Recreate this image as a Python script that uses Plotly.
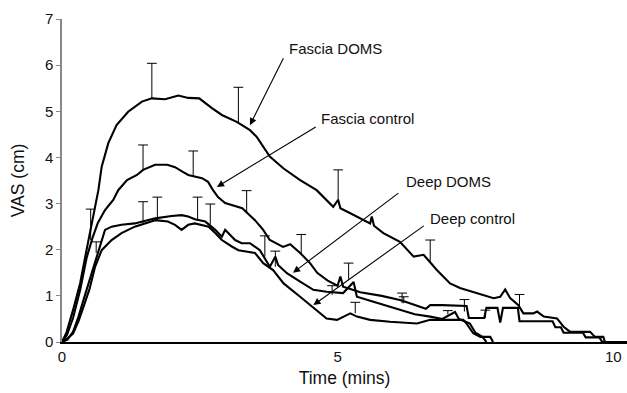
import plotly.graph_objects as go

# ---- data (time in minutes, VAS in cm) ----
fd_t = [0, 0.08, 0.2, 0.33, 0.42, 0.51, 0.66, 0.72, 0.84, 0.99, 1.2, 1.45, 1.63, 1.87, 2.11, 2.29, 2.49,
        2.72, 2.9, 3.17, 3.41, 3.53, 3.77, 4.02, 4.32, 4.62, 4.92, 5.01, 5.05, 5.23, 5.59, 5.62, 5.66, 5.83,
        6.13, 6.38, 6.56, 6.8, 7.04, 7.22, 7.46, 7.71, 7.83, 7.95, 8.04, 8.13, 8.28, 8.37, 8.55, 8.62,
        8.74, 8.98, 9.1, 9.22, 9.58, 9.67, 9.82, 9.85, 10.25]
fd_v = [0, 0.2, 0.69, 1.28, 1.84, 2.36, 3.29, 3.8, 4.31, 4.7, 4.99, 5.21, 5.28, 5.26, 5.34, 5.29, 5.28,
        5.07, 4.92, 4.77, 4.59, 4.45, 4.02, 3.76, 3.51, 3.29, 2.93, 3.08, 2.9, 2.79, 2.57, 2.72, 2.52, 2.36,
        2.17, 1.85, 1.89, 1.56, 1.27, 1.17, 1.09, 1.0, 0.95, 0.98, 1.14, 0.95, 0.8, 0.62, 0.62, 0.66,
        0.55, 0.51, 0.33, 0.22, 0.22, 0.11, 0.11, 0, 0]

fc_t = [0, 0.09, 0.2, 0.33, 0.45, 0.56, 0.65, 0.78, 0.93, 1.02, 1.18, 1.36, 1.47, 1.69, 1.91, 2.05, 2.2,
        2.29, 2.54, 2.65, 2.74, 2.83, 2.96, 3.27, 3.5, 3.65, 3.77, 4.01, 4.14, 4.32, 4.5, 4.63, 4.82, 5.0,
        5.05, 5.1, 5.23, 5.41, 5.8, 6.13, 6.31, 6.6, 6.68, 6.9, 7.34, 7.38, 7.66, 7.7, 7.9, 7.95, 8.0,
        8.27, 8.3, 8.9, 8.95, 9.05, 9.1, 9.45, 9.5, 9.75, 9.8, 10.25]
fc_v = [0, 0.15, 0.52, 1.13, 1.84, 2.28, 2.58, 2.86, 3.08, 3.29, 3.51, 3.62, 3.73, 3.84, 3.84, 3.79, 3.68,
        3.62, 3.55, 3.47, 3.29, 3.14, 3.01, 2.9, 2.64, 2.43, 2.21, 2.06, 2.12, 1.93, 1.71, 1.5, 1.33, 1.22,
        1.42, 1.2, 1.15, 1.08, 1.0, 0.91, 0.84, 0.72, 0.8, 0.8, 0.78, 0.52, 0.52, 0.74, 0.74, 0.42, 0.74,
        0.74, 0.45, 0.45, 0.32, 0.32, 0.2, 0.2, 0.1, 0.1, 0, 0]

dd_t = [0, 0.1, 0.2, 0.3, 0.4, 0.5, 0.6, 0.7, 0.78, 0.9, 1.08, 1.32, 1.69, 1.99, 2.17, 2.29, 2.41, 2.6,
        2.78, 2.9, 2.96, 3.14, 3.26, 3.41, 3.59, 3.77, 3.87, 3.92, 4.08, 4.32, 4.56, 4.8, 5.1, 5.29, 5.35,
        5.71, 6.07, 6.4, 6.68, 6.9, 7.13, 7.2, 7.3, 7.4, 7.5, 7.62, 7.7]
dd_v = [0, 0.05, 0.22, 0.55, 0.95, 1.35, 1.75, 2.1, 2.43, 2.5, 2.54, 2.57, 2.68, 2.73, 2.75, 2.72, 2.66,
        2.61, 2.43, 2.28, 2.43, 2.21, 2.14, 2.14, 1.99, 1.63, 1.85, 1.67, 1.49, 1.31, 1.13, 1.09, 1.06, 1.3,
        0.98, 0.85, 0.72, 0.6, 0.55, 0.5, 0.65, 0.5, 0.45, 0.4, 0.2, 0.12, 0]

dc_t = [0, 0.1, 0.2, 0.3, 0.4, 0.5, 0.6, 0.72, 0.9, 1.08, 1.32, 1.51, 1.69, 1.92, 2.05, 2.17, 2.29, 2.41,
        2.66, 2.78, 2.9, 3.08, 3.2, 3.5, 3.65, 3.83, 4.02, 4.32, 4.62, 4.8, 4.99, 5.23, 5.35, 5.59, 5.95,
        6.44, 6.68, 7.04, 7.28, 7.34, 7.46, 7.59, 7.77, 7.82]
dc_v = [0, 0.08, 0.18, 0.45, 0.8, 1.15, 1.63, 1.99, 2.21, 2.36, 2.5, 2.57, 2.64, 2.61, 2.54, 2.43, 2.54,
        2.57, 2.5, 2.36, 2.21, 2.07, 1.99, 1.93, 1.71, 1.56, 1.27, 0.98, 0.69, 0.51, 0.48, 0.62, 0.55, 0.48,
        0.44, 0.4, 0.48, 0.48, 0.48, 0.4, 0.19, 0.11, 0.11, 0]

# error bars (upper half only): x position, base value, upward error
eb_t = [1.63, 3.2, 5.01, 6.68, 0.52, 1.47, 2.38, 3.35, 4.34, 6.17, 8.3,
        0.62, 1.47, 1.73, 2.46, 2.69, 3.68, 3.87, 4.9, 5.2, 5.32, 6.2, 7.0, 7.3, 7.68]
eb_v = [5.28, 4.75, 3.08, 1.74, 2.21, 3.73, 3.6, 2.8, 1.89, 0.84, 0.73,
        1.93, 2.57, 2.64, 2.64, 2.54, 1.85, 1.63, 1.02, 1.34, 0.62, 0.84, 0.6, 0.66, 0.52]
eb_up = [0.76, 0.77, 0.65, 0.47, 0.67, 0.54, 0.54, 0.48, 0.44, 0.22, 0.3,
         0.24, 0.47, 0.5, 0.5, 0.45, 0.45, 0.34, 0.2, 0.37, 0.24, 0.14, 0.08, 0.26, 0.17]

labels = ["Fascia DOMS", "Fascia control", "Deep DOMS", "Deep control"]
label_xy = [(4.96, 6.37), (5.55, 4.85), (7.01, 3.47), (7.45, 2.67)]
arrow_tail = [(4.03, 6.18), (4.63, 4.68), (6.13, 3.25), (6.59, 2.54)]
arrow_head = [(3.41, 4.70), (2.81, 3.36), (4.19, 1.50), (4.56, 0.80)]

x_ticks = [0, 5, 10]
y_ticks = [0, 1, 2, 3, 4, 5, 6, 7]

FONT = "Liberation Sans, Arial, sans-serif"

fig = go.Figure()
for t, v in [(fd_t, fd_v), (fc_t, fc_v), (dd_t, dd_v), (dc_t, dc_v)]:
    fig.add_trace(go.Scatter(x=t, y=v, mode="lines",
                             line=dict(color="black", width=2.1), showlegend=False))

# error-bar stems and caps
stem_x, stem_y = [], []
for t, b, u in zip(eb_t, eb_v, eb_up):
    stem_x += [t, t, None]
    stem_y += [b, b + u, None]
fig.add_trace(go.Scatter(x=stem_x, y=stem_y, mode="lines",
                         line=dict(color="black", width=1), showlegend=False))
fig.add_trace(go.Scatter(x=eb_t, y=[b + u for b, u in zip(eb_v, eb_up)], mode="markers",
                         marker=dict(symbol="line-ew", size=7, line=dict(color="black", width=1)),
                         showlegend=False))

for (lx, ly), txt in zip(label_xy, labels):
    fig.add_annotation(x=lx, y=ly, text=txt, showarrow=False,
                       font=dict(family=FONT, size=15, color="#111"))
for (tx, ty), (hx, hy) in zip(arrow_tail, arrow_head):
    fig.add_annotation(x=hx, y=hy, ax=tx, ay=ty, axref="x", ayref="y", xref="x", yref="y",
                       text="", showarrow=True, arrowhead=2, arrowsize=1.3, arrowwidth=1.1,
                       arrowcolor="black", standoff=0)

fig.update_layout(
    width=627, height=393,
    margin=dict(l=62, r=0, t=19, b=51),
    paper_bgcolor="white", plot_bgcolor="white",
    font=dict(family=FONT, size=15, color="#111"),
    xaxis=dict(range=[0, 10.25], tickvals=x_ticks, ticks="", showgrid=False, zeroline=False,
               showline=True, linecolor="black", linewidth=1.5,
               title=dict(text="Time (mins)", font=dict(size=17.5), standoff=8),
               tickfont=dict(size=15), automargin=False),
    yaxis=dict(range=[0, 7], tickvals=y_ticks, ticks="outside", ticklen=4, tickcolor="#888",
               showgrid=False, zeroline=False, showline=True, linecolor="#888", linewidth=1.5,
               title=dict(text="VAS (cm)", font=dict(size=17.5), standoff=16),
               tickfont=dict(size=15), automargin=False),
)

fig.write_html("out.html")
